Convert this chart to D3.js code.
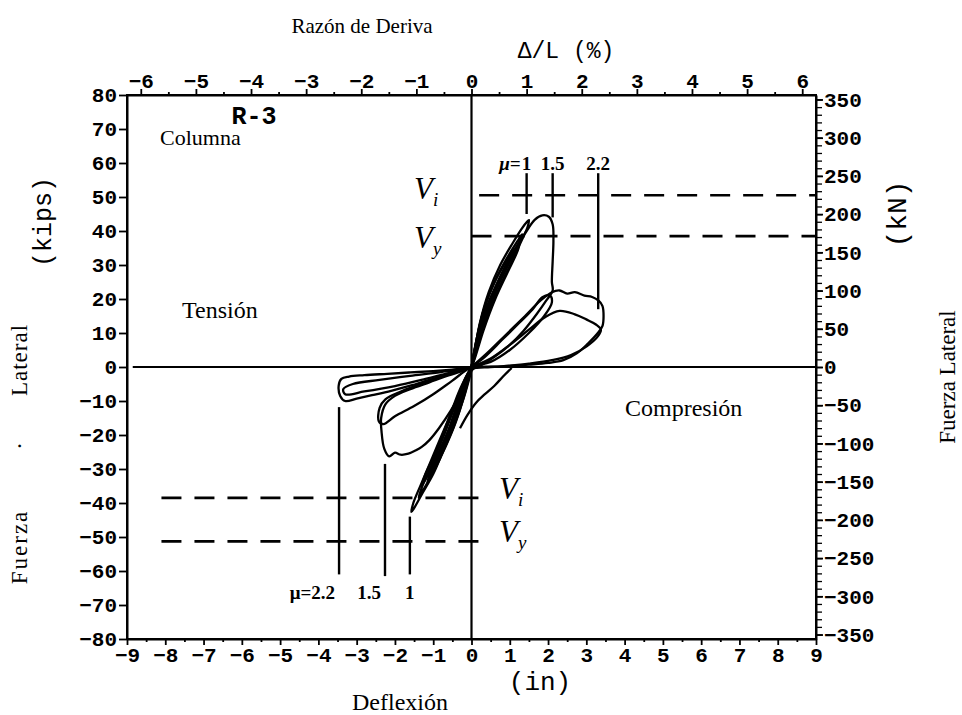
<!DOCTYPE html>
<html><head><meta charset="utf-8">
<script src="https://cdn.jsdelivr.net/npm/d3@7"></script>
<style>
html,body{margin:0;padding:0;background:#fff;}
svg{display:block;}
.serif{font-family:"Liberation Serif","Times New Roman",serif;fill:#000;}
.mono{font-family:"Liberation Mono","Courier New",monospace;fill:#000;}
</style></head><body>
<svg id="chart" width="962" height="715"></svg>
<script>
// ---- axes ----
const deflexionTicks = d3.range(-9, 10);          // in
const fuerzaTicks = d3.range(-80, 81, 10);        // kips
const kNTicks = d3.range(-350, 351, 50);          // kN
const derivaTicks = d3.range(-6, 7);              // %
const columnLength = 144;                          // in
const kNperKip = 4.448;

// ---- hysteresis cycles: [deflexión (in), fuerza (kips)] ----
const cicloElastico1 = [[0,0],[0.12,7],[0.25,13],[0.45,19],[0.62,23],[0.58,21],[0.4,15],[0.2,8],[0,0],[-0.15,-6],[-0.35,-12],[-0.55,-18],[-0.68,-22],[-0.6,-19],[-0.4,-12],[-0.18,-5],[0,0]];
const cicloElastico2 = [[0,0],[0.15,9],[0.35,18],[0.65,26],[0.95,32],[1.1,35],[1.05,33],[0.8,27],[0.5,19],[0.25,10],[0,0],[-0.2,-8],[-0.45,-16],[-0.75,-24],[-1.0,-30],[-1.15,-34],[-1.08,-31],[-0.85,-25],[-0.55,-17],[-0.25,-7],[0,0]];
const cicloElastico3 = [[0,0],[0.13,8],[0.3,16],[0.58,24.5],[0.9,31.5],[1.2,37],[1.32,39],[1.25,36.5],[1.0,31],[0.7,24],[0.4,15],[0.15,6],[0,0],[-0.18,-8],[-0.42,-16.5],[-0.7,-24],[-0.98,-30.5],[-1.25,-36],[-1.38,-38.5],[-1.3,-35.5],[-1.05,-29],[-0.75,-21],[-0.45,-12],[-0.18,-4],[0,0]];
const cicloElastico4 = [[0,0],[0.17,9],[0.38,17],[0.68,25],[1.0,32],[1.25,36],[1.2,34],[0.95,28],[0.62,20],[0.32,11],[0.1,3],[0,0],[-0.22,-8],[-0.5,-16],[-0.8,-24],[-1.1,-31],[-1.3,-35],[-1.22,-32],[-0.95,-25.5],[-0.62,-16],[-0.3,-6.5],[0,0]];
const cicloMu1 = [[0,0],[0.1,6],[0.22,13],[0.45,22],[0.75,30],[1.09,36.7],[1.3,40.5],[1.44,42.6],[1.5,43.2],[1.46,41],[1.3,37],[1.05,31],[0.75,24],[0.45,16],[0.2,8],[0,-1],[-0.2,-9],[-0.48,-18],[-0.75,-25],[-1.0,-31.5],[-1.3,-37.5],[-1.5,-41.5],[-1.57,-42.6],[-1.52,-40],[-1.3,-34],[-1.0,-26],[-0.7,-18],[-0.4,-10],[-0.15,-3],[0,0]];
const cicloMu15 = [[0,0],[0.2,9],[0.45,18],[0.8,27],[1.15,35],[1.44,40],[1.65,43.3],[1.85,44.6],[2.02,44.2],[2.12,42],[2.14,37],[2.12,31],[2.1,25],[2.12,22.5],[1.95,19.5],[1.7,15.5],[1.35,10.5],[1.0,6.5],[0.6,3],[0.25,0.5],[0,-1],[-0.25,-7],[-0.55,-13],[-0.85,-18],[-1.1,-21.5],[-1.3,-23.5],[-1.45,-24.5],[-1.65,-25.5],[-1.85,-25.8],[-2.0,-25.2],[-2.15,-26.3],[-2.28,-24],[-2.35,-19],[-2.36,-15],[-2.25,-11],[-2.0,-8.5],[-1.6,-6.5],[-1.1,-4.5],[-0.6,-2.5],[-0.2,-1],[0,0]];
const cicloMu15b = [[0,0],[0.35,3],[0.8,8],[1.25,13],[1.6,17],[1.85,20.5],[2.05,21],[2.1,19],[1.9,15],[1.5,10],[1.0,5],[0.5,1.5],[0,0],[-0.5,-4],[-1.0,-8],[-1.5,-11.5],[-2.0,-14.5],[-2.3,-16.8],[-2.42,-16],[-2.4,-12],[-2.25,-9.5],[-1.8,-7],[-1.2,-4.5],[-0.6,-2],[0,0]];
const cicloMu22 = [[0,0],[0.4,4],[0.9,9.5],[1.4,15],[1.8,19.5],[2.1,22],[2.3,22.5],[2.5,21.6],[2.7,22],[2.95,21],[3.15,20.6],[3.32,19.5],[3.42,18],[3.45,15],[3.42,12],[3.3,10],[3.05,7],[2.75,4],[2.4,2],[2.0,1.2],[1.5,0.7],[1.0,0.3],[0.5,0],[0,-0.3],[-0.5,-0.8],[-1.0,-1.2],[-1.6,-1.6],[-2.2,-2],[-2.8,-2.4],[-3.2,-2.8],[-3.4,-3.5],[-3.47,-5.5],[-3.43,-8.5],[-3.3,-10],[-3.0,-9.3],[-2.6,-8.3],[-2.1,-7],[-1.6,-5.5],[-1.1,-3.8],[-0.6,-2.2],[-0.2,-0.8],[0,0]];
const cicloMu22b = [[0,0],[0.5,2.5],[1.0,6.5],[1.5,11],[1.9,14.5],[2.3,16.5],[2.7,15.5],[3.0,14],[3.25,12.5],[3.38,11],[3.3,9],[3.0,6],[2.6,3.5],[2.1,2],[1.5,1],[0.8,0.2],[0,0],[-0.8,-1.5],[-1.6,-2.6],[-2.4,-3.8],[-3.1,-5],[-3.35,-6.5],[-3.3,-8],[-2.8,-7.2],[-2.0,-5.6],[-1.2,-3.5],[-0.5,-1.5],[0,0]];
const lobuloOrigen = [[1.05,-0.3],[0.85,-2.5],[0.6,-5.5],[0.35,-8],[0.12,-10.5],[-0.1,-14],[-0.3,-18]];

const ciclos = [cicloElastico1, cicloElastico2, cicloElastico3, cicloElastico4, cicloMu1, cicloMu15, cicloMu15b, cicloMu22, cicloMu22b, lobuloOrigen];

// ---- strength levels (kips) and their extent (in) ----
const nivelesSup = [
  {v:"V", sub:"i", kips:50.5, desde:0.2, hasta:9},
  {v:"V", sub:"y", kips:38.5, desde:0.0, hasta:9}
];
const nivelesInf = [
  {v:"V", sub:"i", kips:-38.5, desde:-8.1, hasta:0.35},
  {v:"V", sub:"y", kips:-51.3, desde:-8.1, hasta:0.35}
];

// ---- ductility markers ----
const ductSup = [
  {pre:"μ=", val:"1", x:1.44, desde:57, hasta:45},
  {pre:"", val:"1.5", x:2.12, desde:57, hasta:44},
  {pre:"", val:"2.2", x:3.31, desde:57, hasta:17}
];
const ductInf = [
  {pre:"μ=", val:"2.2", x:-3.46, desde:-11.8, hasta:-61},
  {pre:"", val:"1.5", x:-2.26, desde:-28.5, hasta:-61.5},
  {pre:"", val:"1", x:-1.61, desde:-44, hasta:-61}
];

// ---- layout ----
const svg = d3.select("#chart");
const L = 127, R = 816, T = 95, B = 639;
const x = d3.scaleLinear().domain([-9, 9]).range([L, R]);
const y = d3.scaleLinear().domain([-80, 80]).range([B, T]);
const xDrift = d3.scaleLinear().domain([-900/columnLength, 900/columnLength]).range([L, R]);
const yKN = d3.scaleLinear().domain([-80*kNperKip, 80*kNperKip]).range([B, T]);
const fmt = d3.format("d");

function styleAxis(g, size) {
  g.select(".domain").attr("stroke", "#000").attr("stroke-width", 2);
  g.selectAll(".tick line").attr("stroke", "#000").attr("stroke-width", 1.8);
  g.selectAll(".tick text").attr("class", "mono").style("font-size", size + "px").style("font-weight", "bold").attr("fill", "#000");
}

// left: kips
const gL = svg.append("g").attr("transform", `translate(${L},0)`)
  .call(d3.axisLeft(y).tickValues(fuerzaTicks).tickSize(8).tickSizeOuter(0).tickPadding(2).tickFormat(fmt));
styleAxis(gL, 21);

// right: kN major + minor
const gRm = svg.append("g").attr("transform", `translate(${R},0)`)
  .call(d3.axisRight(yKN).tickValues(d3.range(-350, 351, 10)).tickSize(6).tickSizeOuter(0).tickFormat(""));
styleAxis(gRm, 10);
gRm.selectAll(".tick line").attr("stroke-width", 1.3);
const gR = svg.append("g").attr("transform", `translate(${R},0)`)
  .call(d3.axisRight(yKN).tickValues(kNTicks).tickSize(7).tickSizeOuter(0).tickPadding(1).tickFormat(fmt));
styleAxis(gR, 21);

// bottom: in
const gBm = svg.append("g").attr("transform", `translate(0,${B})`)
  .call(d3.axisBottom(x).tickValues(d3.range(-8.5, 9, 1)).tickSize(3).tickSizeOuter(0).tickFormat(""));
styleAxis(gBm, 10);
const gB = svg.append("g").attr("transform", `translate(0,${B})`)
  .call(d3.axisBottom(x).tickValues(deflexionTicks).tickSize(6).tickSizeOuter(0).tickPadding(2).tickFormat(fmt));
styleAxis(gB, 21);

// top: drift %
const gTm = svg.append("g").attr("transform", `translate(0,${T})`)
  .call(d3.axisTop(xDrift).tickValues(d3.range(-5.5, 6, 1)).tickSize(3).tickSizeOuter(0).tickFormat(""));
styleAxis(gTm, 10);
const gT = svg.append("g").attr("transform", `translate(0,${T})`)
  .call(d3.axisTop(xDrift).tickValues(derivaTicks).tickSize(6).tickSizeOuter(0).tickPadding(1).tickFormat(fmt));
styleAxis(gT, 21);
gTm.select(".domain").remove(); gBm.select(".domain").remove(); gRm.select(".domain").remove();

// zero lines
svg.append("line").attr("x1", x(-8.85)).attr("x2", R).attr("y1", y(0)).attr("y2", y(0))
  .attr("stroke", "#000").attr("stroke-width", 2.2);
svg.append("line").attr("x1", x(0)).attr("x2", x(0)).attr("y1", T).attr("y2", B)
  .attr("stroke", "#000").attr("stroke-width", 2.2);

// hysteresis loops
const line = d3.line().x(d => x(d[0])).y(d => y(d[1])).curve(d3.curveCatmullRom.alpha(0.5));
svg.append("g").selectAll("path").data(ciclos).join("path")
  .attr("d", line).attr("fill", "none").attr("stroke", "#000")
  .attr("stroke-width", 2.3).attr("stroke-linejoin", "round");

// strength levels
const niveles = nivelesSup.concat(nivelesInf);
svg.append("g").selectAll("line").data(niveles).join("line")
  .attr("x1", d => x(d.desde)).attr("x2", d => x(d.hasta))
  .attr("y1", d => y(d.kips)).attr("y2", d => y(d.kips))
  .attr("stroke", "#000").attr("stroke-width", 2.6).attr("stroke-dasharray", "20,13");

function etiquetaV(d, px, py) {
  const t = svg.append("text").attr("class", "serif").attr("x", px).attr("y", py)
    .style("font-size", "31px").style("font-style", "italic");
  t.append("tspan").text(d.v);
  t.append("tspan").text(d.sub).attr("dy", 7).style("font-size", "19px");
}
nivelesSup.forEach(d => etiquetaV(d, x(-1.5), y(d.kips) + 4 + (d.sub === "y" ? 8 : 0)));
nivelesInf.forEach(d => etiquetaV(d, x(0.72), y(d.kips) + 1));

// ductility markers
svg.append("g").selectAll("line").data(ductSup.concat(ductInf)).join("line")
  .attr("x1", d => x(d.x)).attr("x2", d => x(d.x))
  .attr("y1", d => y(d.desde)).attr("y2", d => y(d.hasta))
  .attr("stroke", "#000").attr("stroke-width", 2.4);
ductSup.forEach(d => {
  svg.append("text").attr("class", "serif").attr("x", x(d.x)).attr("y", y(59.8) + 6)
    .attr("text-anchor", "middle").style("font-size", "19px").style("font-weight", "bold").text(d.val);
  if (d.pre) svg.append("text").attr("class", "serif").attr("x", x(d.x) - 6).attr("y", y(59.8) + 6)
    .attr("text-anchor", "end").style("font-size", "19px").style("font-weight", "bold").style("font-style", "italic").text(d.pre);
});
ductInf.forEach((d, i) => {
  const last = i === ductInf.length - 1;
  svg.append("text").attr("class", "serif").attr("x", x(d.x) + (last ? 0 : -4)).attr("y", y(-66.5) + 6)
    .attr("text-anchor", last ? "middle" : "end").style("font-size", "19px").style("font-weight", "bold")
    .text(d.pre + d.val);
});

// frame
svg.append("rect").attr("x", L).attr("y", T).attr("width", R - L).attr("height", B - T)
  .attr("fill", "none").attr("stroke", "#000").attr("stroke-width", 2);

// texts
function txt(s, px, py, cls, size, opts = {}) {
  const t = svg.append("text").attr("class", cls).attr("x", px).attr("y", py)
    .attr("text-anchor", opts.anchor || "middle").attr("dominant-baseline", "central")
    .style("font-size", size + "px").text(s);
  if (opts.bold) t.style("font-weight", "bold");
  if (opts.ls) t.style("letter-spacing", opts.ls + "px");
  if (opts.rot) t.attr("transform", `rotate(${opts.rot},${px},${py})`);
  return t;
}
txt("Razón de Deriva", 362, 26, "serif", 21);
txt("Δ/L (%)", 566, 52, "mono", 23);
txt("Deflexión", 400, 702, "serif", 24);
txt("(in)", 540, 683, "mono", 26);
txt("(kips)", 44, 222, "mono", 25, {rot: -90});
txt("(kN)", 898, 214, "mono", 28, {rot: -90});
txt("Lateral", 19, 360, "serif", 23, {rot: -90, ls: 1});
txt("·", 19, 446, "serif", 23, {rot: -90});
txt("Fuerza", 19, 547, "serif", 23, {rot: -90, ls: 2});
txt("Fuerza Lateral", 947, 377, "serif", 23, {rot: -90});
txt("Columna", 160, 137, "serif", 22, {anchor: "start"});
txt("R-3", 254, 117, "mono", 25, {bold: true});
txt("Tensión", 182, 310, "serif", 24, {anchor: "start"});
txt("Compresión", 625, 408, "serif", 24, {anchor: "start"});
</script>
</body></html>
